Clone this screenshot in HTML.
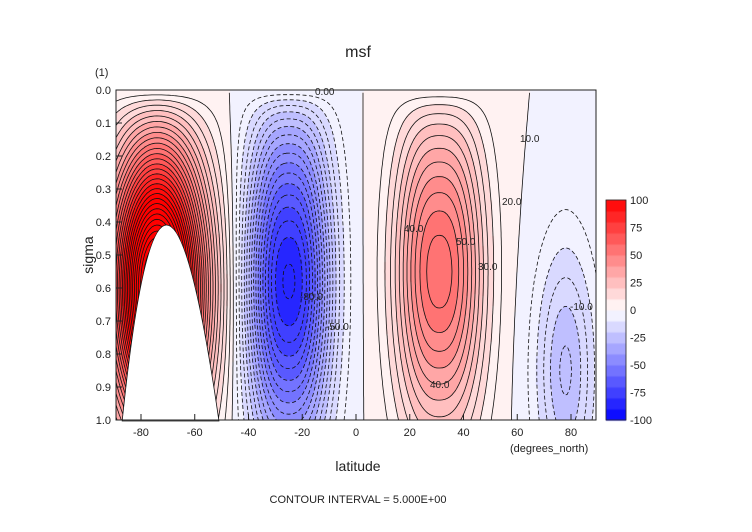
<!DOCTYPE html>
<html><head><meta charset="utf-8"><style>
body{margin:0;background:#fff;}
#wrap{position:relative;width:752px;height:532px;font-family:"Liberation Sans",sans-serif;color:#222;}
canvas{position:absolute;left:0;top:0;}
svg{position:absolute;left:0;top:0;}
</style></head><body>
<div id="wrap">
<canvas id="cv" width="752" height="532"></canvas>
<svg id="sv" width="752" height="532"></svg>
</div>
<script>
// data: circulation cells (latitude center, sigma center, amplitude, widths)
const cellLat=[-74,-25,31,78];
const cellSigma=[0.6,0.58,0.55,0.85];
const cellAmp=[160,-86,58,-26];
const cellLatWidth=[17,15,16,11];
const cellSigmaWidth=[0.42,0.5,0.48,0.38];
const cellLatPower=[2,2.4,2.4,2];
const xTicks=[-80,-60,-40,-20,0,20,40,60,80];
const yTicks=[0.0,0.1,0.2,0.3,0.4,0.5,0.6,0.7,0.8,0.9,1.0];
const cbTicks=[100,75,50,25,0,-25,-50,-75,-100];
const contourStep=5;

const X0=116,X1=596,Y0=90,Y1=420;
const LAT0=-89.3,LAT1=89.3;
const xs=l=>X0+(l-LAT0)/(LAT1-LAT0)*(X1-X0);
const ys=s=>Y0+s*(Y1-Y0);
function field(lat,s){let v=0;for(let i=0;i<cellLat.length;i++){const a=Math.abs((lat-cellLat[i])/cellLatWidth[i]),b=(s-cellSigma[i])/cellSigmaWidth[i];v+=cellAmp[i]*Math.exp(-Math.pow(a,cellLatPower[i])-b*b);}return v*(1-Math.exp(-s/0.06));}
function col(v){const q=(Math.floor(v/10)+0.5)*10;const t=Math.min(Math.abs(q)/100,1);const c=Math.round(255*(1-t));return v>=0?`rgb(255,${c},${c})`:`rgb(${c},${c},255)`;}
const ctx=document.getElementById('cv').getContext('2d');
for(let px=X0;px<X1;px+=2)for(let py=Y0;py<Y1;py+=2){const lat=LAT0+(px+1-X0)/(X1-X0)*(LAT1-LAT0),s=(py+1-Y0)/(Y1-Y0);ctx.fillStyle=col(field(lat,s));ctx.fillRect(px,py,2,2);}
// colorbar
for(let v=-100;v<100;v+=10){ctx.fillStyle=col(v+5);const y=420-(v+110)*1.1;ctx.fillRect(606,y,20,11.5);}
const NS='http://www.w3.org/2000/svg',sv=document.getElementById('sv');
function el(t,a,p){const e=document.createElementNS(NS,t);for(const k in a)e.setAttribute(k,a[k]);(p||sv).appendChild(e);return e;}
// contours (segments chained into polylines)
const nx=200,ny=120,G=[];
for(let j=0;j<=ny;j++){G[j]=[];for(let i=0;i<=nx;i++)G[j][i]=field(LAT0+i/nx*(LAT1-LAT0),j/ny);}
const gx=k=>X0+k/nx*(X1-X0),gy=k=>Y0+k/ny*(Y1-Y0);
let pos='',neg='';
for(let lv=-100;lv<=200;lv+=contourStep){
 const segs=[];
 for(let j=0;j<ny;j++)for(let i=0;i<nx;i++){const a=G[j][i],b=G[j][i+1],c=G[j+1][i+1],e=G[j+1][i];const pts=[];
  const edge=(v1,v2,k)=>{if((v1-lv)*(v2-lv)<0)pts.push([k,(lv-v1)/(v2-v1)]);};
  edge(a,b,'h'+j+'_'+i);edge(b,c,'v'+j+'_'+(i+1));edge(e,c,'h'+(j+1)+'_'+i);edge(a,e,'v'+j+'_'+i);
  const P=pts.map(p=>{const [kind,r]=p[0].split('_');const jj=+kind.slice(1),ii=+r;return {key:p[0],x:kind[0]=='h'?gx(ii+p[1]):gx(ii),y:kind[0]=='h'?gy(jj):gy(jj+p[1])};});
  for(let k=0;k+1<P.length;k+=2)segs.push([P[k],P[k+1]]);}
 const adj={};segs.forEach((s,idx)=>{[0,1].forEach(q=>{(adj[s[q].key]=adj[s[q].key]||[]).push(idx);});});
 const used=new Array(segs.length).fill(false);let d='';
 for(let s0=0;s0<segs.length;s0++){if(used[s0])continue;used[s0]=true;
  let line=[segs[s0][0],segs[s0][1]];
  for(const dir of [1,0]){let cur=dir?line[line.length-1]:line[0];
   while(true){const nb=(adj[cur.key]||[]).find(k=>!used[k]);if(nb===undefined)break;used[nb]=true;const s=segs[nb];const nxt=s[0].key==cur.key?s[1]:s[0];if(dir)line.push(nxt);else line.unshift(nxt);cur=nxt;}}
  d+='M'+line.map(p=>p.x.toFixed(1)+' '+p.y.toFixed(1)).join('L');}
 if(lv<0)neg+=d;else pos+=d;}
const pl=el('path',{d:pos,stroke:'#111',fill:'none','stroke-width':0.8});

const nl=el('path',{d:neg,stroke:'#111',fill:'none','stroke-width':0.8,'stroke-dasharray':'4 2.5'});

// terrain mask
const mk=el('path',{d:`M${xs(-87)} 421 Q${xs(-72)} 29 ${xs(-51)} 421 Z`,fill:'#fff',stroke:'#111','stroke-width':0.8});

// frame
const fr=el('rect',{x:X0,y:Y0,width:X1-X0,height:Y1-Y0,fill:'none',stroke:'#222','stroke-width':1});

const cf=el('rect',{x:606,y:200,width:20,height:220,fill:'none',stroke:'#222','stroke-width':0.8});

function txt(s,a,name){const t=el('text',Object.assign({'font-family':'Liberation Sans, sans-serif',fill:'#222'},a));t.textContent=s;return t;}
xTicks.forEach(l=>{const x=xs(l);el('line',{x1:x,x2:x,y1:Y1,y2:Y1-6,stroke:'#222'});txt(String(l),{x:x,y:436,'font-size':11,'text-anchor':'middle'},'x-tick-label');});
yTicks.forEach(s=>{const y=ys(s);el('line',{x1:X0,x2:X0+6,y1:y,y2:y,stroke:'#222'});txt(s.toFixed(1),{x:111,y:y+4,'font-size':11,'text-anchor':'end'},'y-tick-label');});
cbTicks.forEach(v=>{const y=420-(v+100)/200*220;txt(String(v),{x:630,y:y+4,'font-size':11},'colorbar-tick-label');});
txt('msf',{x:358,y:57,'font-size':16,'text-anchor':'middle'},'chart-title');
txt('(1)',{x:95,y:76,'font-size':11},'units-label');
txt('sigma',{x:93,y:255,'font-size':14,'text-anchor':'middle',transform:'rotate(-90 93 255)'},'y-axis-title');
txt('latitude',{x:358,y:471,'font-size':14,'text-anchor':'middle'},'x-axis-title');
txt('(degrees_north)',{x:510,y:452,'font-size':11},'x-axis-units');
txt('CONTOUR INTERVAL = 5.000E+00',{x:358,y:503,'font-size':11,'text-anchor':'middle'},'contour-interval-note');
[['0.00',315,95],['10.0',520,142],['50.0',456,245],['40.0',404,232],['-80.0',300,300],['-50.0',326,330],['-10.0',570,310],['40.0',430,388],['30.0',478,270],['20.0',502,205]].forEach(a=>txt(a[0],{x:a[1],y:a[2],'font-size':10},'contour-label'));
</script>
</body></html>
